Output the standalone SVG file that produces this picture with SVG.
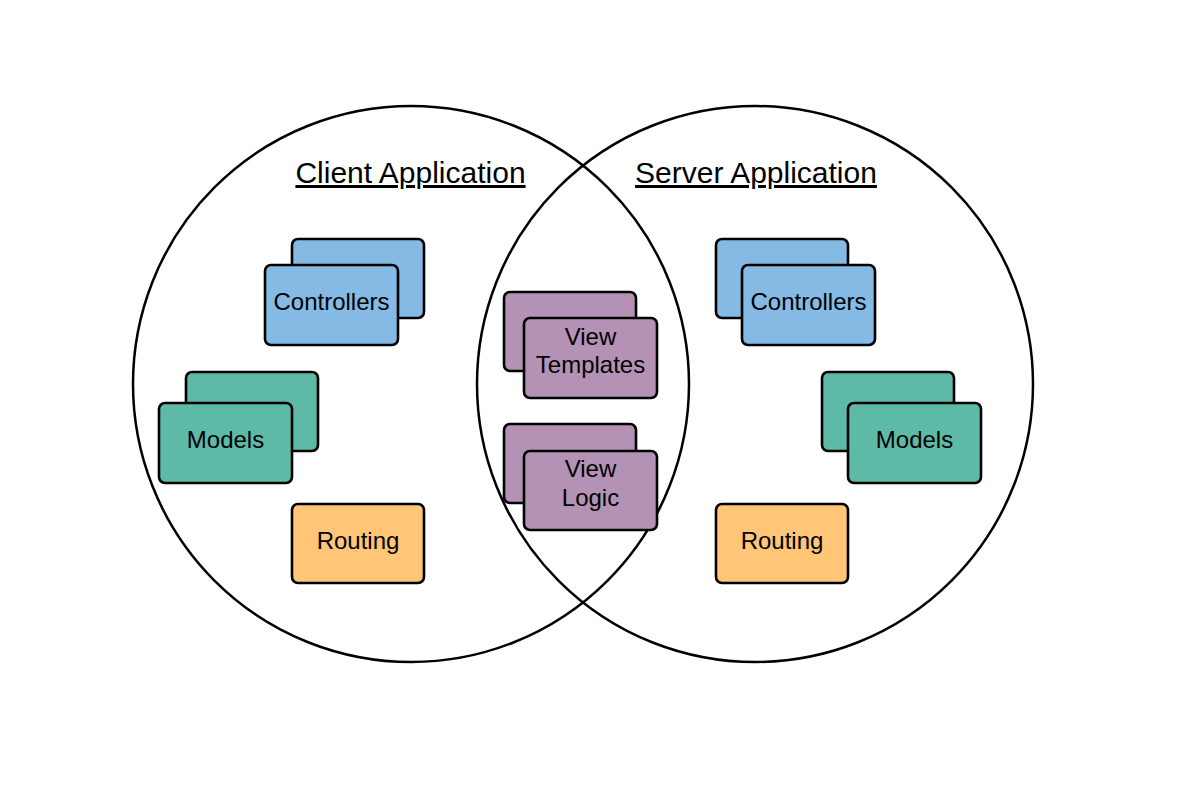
<svg xmlns="http://www.w3.org/2000/svg" width="1179" height="808" viewBox="0 0 1179 808">
<style>
.circle{fill:none;stroke:#000;stroke-width:2.5}
.box{stroke:#000;stroke-width:2.6}
.blue{fill:#84BAE4}
.green{fill:#5CBAA7}
.orange{fill:#FFC677}
.purple{fill:#B492B5}
.lbl{font-family:"Liberation Sans",Arial,sans-serif;font-size:24px;fill:#000;text-anchor:middle}
.title{font-family:"Liberation Sans",Arial,sans-serif;font-size:30px;fill:#000;text-anchor:middle;text-decoration:underline}
</style>
<rect width="1179" height="808" fill="#fff"/>
<g id="client-circle"><circle class="circle" cx="411" cy="384" r="278"/><text class="title" x="410.5" y="183">Client Application</text></g>
<g id="server-circle"><circle class="circle" cx="755" cy="384" r="278"/><text class="title" x="756" y="183">Server Application</text></g>
<g id="connectors"></g>
<g id="client-controllers">
<rect class="box blue" x="292" y="239" width="132" height="79" rx="6"/>
<rect class="box blue" x="265" y="265" width="133" height="80" rx="6"/>
<text class="lbl" x="331.5" y="310">Controllers</text>
</g>
<g id="client-models">
<rect class="box green" x="186" y="372" width="132" height="79" rx="6"/>
<rect class="box green" x="159" y="403" width="133" height="80" rx="6"/>
<text class="lbl" x="225.5" y="448">Models</text>
</g>
<g id="client-routing">
<rect class="box orange" x="292" y="504" width="132" height="79" rx="6"/>
<text class="lbl" x="358" y="549">Routing</text>
</g>
<g id="view-templates">
<rect class="box purple" x="504" y="292" width="132" height="79" rx="6"/>
<rect class="box purple" x="524" y="318" width="133" height="80" rx="6"/>
<text class="lbl" x="590.5" y="345">View</text>
<text class="lbl" x="590.5" y="373">Templates</text>
</g>
<g id="view-logic">
<rect class="box purple" x="504" y="424" width="132" height="79" rx="6"/>
<rect class="box purple" x="524" y="451" width="133" height="79" rx="6"/>
<text class="lbl" x="590.5" y="477">View</text>
<text class="lbl" x="590.5" y="506">Logic</text>
</g>
<g id="server-controllers">
<rect class="box blue" x="716" y="239" width="132" height="79" rx="6"/>
<rect class="box blue" x="742" y="265" width="133" height="80" rx="6"/>
<text class="lbl" x="808.5" y="310">Controllers</text>
</g>
<g id="server-models">
<rect class="box green" x="822" y="372" width="132" height="79" rx="6"/>
<rect class="box green" x="848" y="403" width="133" height="80" rx="6"/>
<text class="lbl" x="914.5" y="448">Models</text>
</g>
<g id="server-routing">
<rect class="box orange" x="716" y="504" width="132" height="79" rx="6"/>
<text class="lbl" x="782" y="549">Routing</text>
</g>
</svg>
